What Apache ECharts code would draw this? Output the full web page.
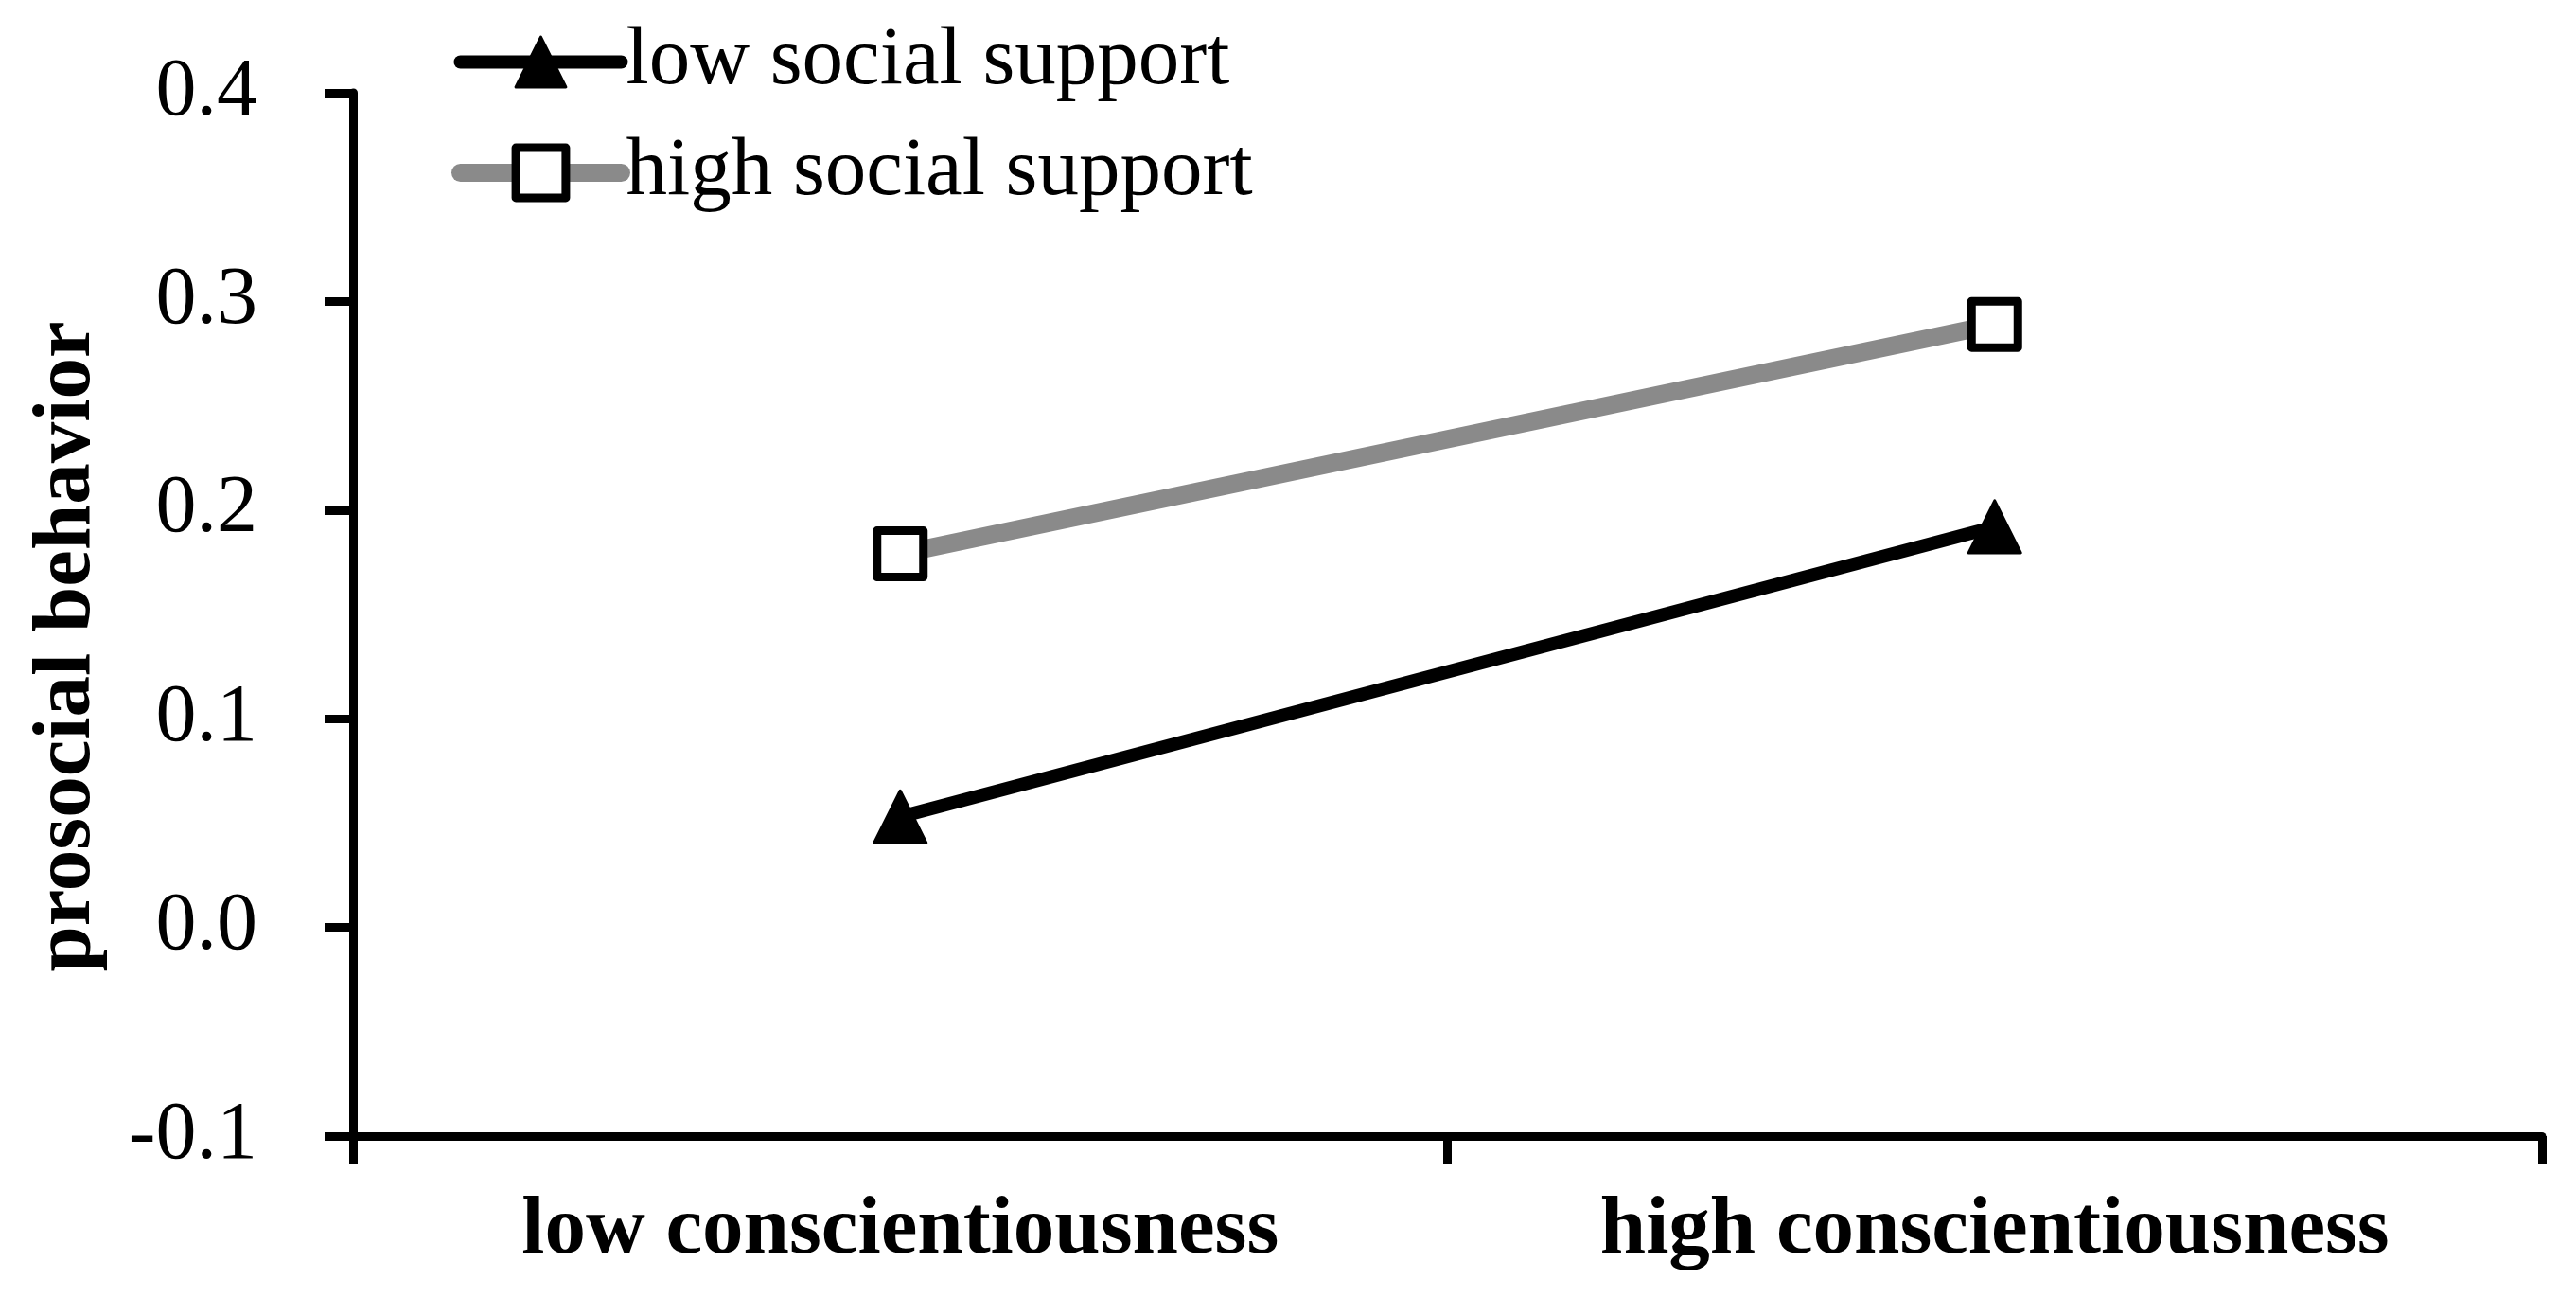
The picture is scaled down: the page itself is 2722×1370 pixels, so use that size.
<!DOCTYPE html>
<html lang="en">
<head>
    <meta charset="UTF-8">
    <title>prosocial behavior</title>
    <style>
        *{
            margin: 0;
            padding: 0;
        }
        body,html{
            width: 100%;
            height: 100%;
            background: #fff;
        }
        #main{
            width: 2722px;
            height: 1370px;
        }
    </style>
</head>
<body>

<div id="main"></div>

<script src="https://cdn.jsdelivr.net/npm/echarts@6/dist/echarts.min.js"></script>
<script type="text/javascript">
    // data
    var categories = ['low conscientiousness', 'high conscientiousness'];
    var seriesNames = ['low social support', 'high social support'];
    var lowSupport = [0.053, 0.192];
    var highSupport = [0.179, 0.289];
    var yMin = -0.1, yMax = 0.4, yStep = 0.1;

    var serif = '"Liberation Serif", "Times New Roman", serif';

    var myChart = echarts.init(document.getElementById('main'));

    var option = {
        animation: false,
        backgroundColor: '#fff',
        grid: {
            left: 373,
            right: 36,
            top: 98,
            bottom: 170,
            containLabel: false
        },
        legend: {
            orient: 'vertical',
            left: 477,
            top: 22,
            padding: 0,
            itemWidth: 170,
            itemHeight: 66,
            itemGap: 30,
            textStyle: {
                fontFamily: serif,
                fontSize: 87,
                lineHeight: 87,
                color: '#000'
            },
            lineStyle: {
                width: 'inherit',
                cap: 'round'
            },
            itemStyle: {
                borderWidth: 'inherit'
            },
            data: seriesNames
        },
        xAxis: {
            type: 'category',
            data: categories,
            axisLine: {
                onZero: false,
                lineStyle: {color: '#000', width: 9}
            },
            axisTick: {
                show: true,
                alignWithLabel: false,
                interval: 0,
                length: 30,
                lineStyle: {color: '#000', width: 9}
            },
            axisLabel: {
                margin: 57,
                fontFamily: serif,
                fontWeight: 'bold',
                fontSize: 87,
                lineHeight: 87,
                color: '#000'
            },
            splitLine: {show: false}
        },
        yAxis: {
            type: 'value',
            min: yMin,
            max: yMax,
            interval: yStep,
            name: 'prosocial behavior',
            nameLocation: 'middle',
            nameGap: 258,
            nameRotate: 90,
            nameTextStyle: {
                fontFamily: serif,
                fontWeight: 'bold',
                fontSize: 87,
                lineHeight: 87,
                color: '#000',
                padding: [0, 68, 0, 0]
            },
            axisLine: {
                show: true,
                lineStyle: {color: '#000', width: 9}
            },
            axisTick: {
                show: true,
                length: 30,
                lineStyle: {color: '#000', width: 9}
            },
            axisLabel: {
                margin: 101,
                fontFamily: serif,
                fontSize: 86,
                color: '#000',
                formatter: function (v) {
                    return v.toFixed(1);
                }
            },
            splitLine: {show: false}
        },
        series: [
            {
                name: seriesNames[0],
                type: 'line',
                data: lowSupport,
                symbol: 'triangle',
                symbolSize: 55,
                lineStyle: {color: '#000', width: 14},
                itemStyle: {
                    color: '#000',
                    borderColor: '#000',
                    borderWidth: 3,
                    borderJoin: 'round'
                },
                z: 3
            },
            {
                name: seriesNames[1],
                type: 'line',
                data: highSupport,
                symbol: 'rect',
                symbolSize: 49,
                lineStyle: {color: '#8a8a8a', width: 19},
                itemStyle: {
                    color: '#fff',
                    borderColor: '#000',
                    borderWidth: 9,
                    borderJoin: 'round'
                },
                z: 3
            }
        ]
    };

    myChart.setOption(option);
</script>
</body>
</html>
